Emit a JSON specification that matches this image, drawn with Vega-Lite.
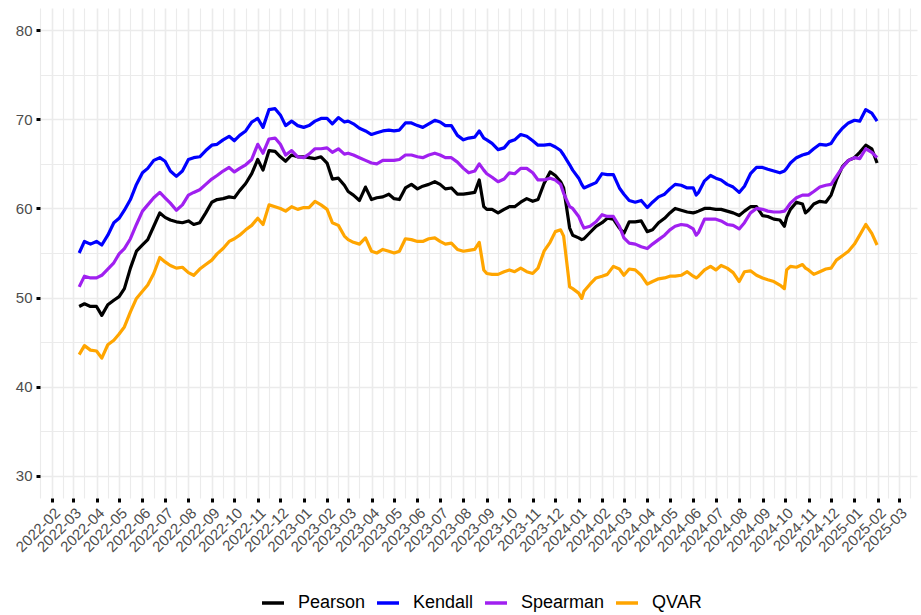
{
  "$schema": "https://vega.github.io/schema/vega-lite/v6.json",
  "width": 877,
  "height": 490,
  "autosize": {"type": "none"},
  "padding": {"left": 40, "top": 8, "right": 4, "bottom": 117},
  "background": "white",
  "config": {"view": {"stroke": null}},
  "data": {"values": [
    {"date":"2022-03-09","Pearson":49.0,"Kendall":55.0,"Spearman":51.2,"QVAR":43.6},
    {"date":"2022-03-16","Pearson":49.3,"Kendall":56.3,"Spearman":52.4,"QVAR":44.6},
    {"date":"2022-03-24","Pearson":49.0,"Kendall":56.0,"Spearman":52.2,"QVAR":44.1},
    {"date":"2022-04-01","Pearson":49.0,"Kendall":56.3,"Spearman":52.2,"QVAR":44.0},
    {"date":"2022-04-08","Pearson":48.0,"Kendall":55.9,"Spearman":52.5,"QVAR":43.2},
    {"date":"2022-04-16","Pearson":49.2,"Kendall":57.0,"Spearman":53.2,"QVAR":44.7},
    {"date":"2022-04-24","Pearson":49.7,"Kendall":58.4,"Spearman":53.9,"QVAR":45.2},
    {"date":"2022-05-01","Pearson":50.1,"Kendall":58.9,"Spearman":54.9,"QVAR":45.9},
    {"date":"2022-05-08","Pearson":51.0,"Kendall":59.8,"Spearman":55.5,"QVAR":46.7},
    {"date":"2022-05-16","Pearson":53.3,"Kendall":61.0,"Spearman":56.6,"QVAR":48.4},
    {"date":"2022-05-24","Pearson":55.2,"Kendall":62.7,"Spearman":58.2,"QVAR":49.9},
    {"date":"2022-06-01","Pearson":55.9,"Kendall":64.0,"Spearman":59.7,"QVAR":50.7},
    {"date":"2022-06-08","Pearson":56.5,"Kendall":64.5,"Spearman":60.4,"QVAR":51.4},
    {"date":"2022-06-16","Pearson":58.0,"Kendall":65.4,"Spearman":61.2,"QVAR":52.7},
    {"date":"2022-06-24","Pearson":59.5,"Kendall":65.7,"Spearman":61.8,"QVAR":54.5},
    {"date":"2022-07-01","Pearson":59.0,"Kendall":65.3,"Spearman":61.2,"QVAR":54.0},
    {"date":"2022-07-08","Pearson":58.7,"Kendall":64.2,"Spearman":60.6,"QVAR":53.6},
    {"date":"2022-07-16","Pearson":58.5,"Kendall":63.6,"Spearman":59.8,"QVAR":53.3},
    {"date":"2022-07-24","Pearson":58.4,"Kendall":64.2,"Spearman":60.4,"QVAR":53.4},
    {"date":"2022-08-01","Pearson":58.6,"Kendall":65.5,"Spearman":61.5,"QVAR":52.8},
    {"date":"2022-08-08","Pearson":58.2,"Kendall":65.7,"Spearman":61.8,"QVAR":52.5},
    {"date":"2022-08-16","Pearson":58.4,"Kendall":65.8,"Spearman":62.1,"QVAR":53.2},
    {"date":"2022-08-24","Pearson":59.5,"Kendall":66.5,"Spearman":62.7,"QVAR":53.7},
    {"date":"2022-09-01","Pearson":60.7,"Kendall":67.1,"Spearman":63.3,"QVAR":54.2},
    {"date":"2022-09-08","Pearson":61.0,"Kendall":67.2,"Spearman":63.7,"QVAR":54.9},
    {"date":"2022-09-16","Pearson":61.1,"Kendall":67.7,"Spearman":64.2,"QVAR":55.5},
    {"date":"2022-09-24","Pearson":61.3,"Kendall":68.1,"Spearman":64.6,"QVAR":56.3},
    {"date":"2022-10-01","Pearson":61.2,"Kendall":67.6,"Spearman":64.1,"QVAR":56.6},
    {"date":"2022-10-08","Pearson":62.0,"Kendall":68.2,"Spearman":64.5,"QVAR":57.0},
    {"date":"2022-10-16","Pearson":62.8,"Kendall":68.7,"Spearman":64.9,"QVAR":57.6},
    {"date":"2022-10-24","Pearson":63.9,"Kendall":69.7,"Spearman":65.5,"QVAR":58.1},
    {"date":"2022-11-01","Pearson":65.5,"Kendall":70.1,"Spearman":67.2,"QVAR":58.9},
    {"date":"2022-11-08","Pearson":64.3,"Kendall":69.1,"Spearman":66.2,"QVAR":58.2},
    {"date":"2022-11-16","Pearson":66.5,"Kendall":71.1,"Spearman":67.8,"QVAR":60.4},
    {"date":"2022-11-24","Pearson":66.4,"Kendall":71.2,"Spearman":67.9,"QVAR":60.2},
    {"date":"2022-12-01","Pearson":65.8,"Kendall":70.5,"Spearman":67.2,"QVAR":60.0},
    {"date":"2022-12-08","Pearson":65.3,"Kendall":69.3,"Spearman":66.0,"QVAR":59.7},
    {"date":"2022-12-16","Pearson":66.0,"Kendall":69.8,"Spearman":66.5,"QVAR":60.2},
    {"date":"2022-12-24","Pearson":65.8,"Kendall":69.3,"Spearman":65.8,"QVAR":59.9},
    {"date":"2023-01-01","Pearson":65.8,"Kendall":69.1,"Spearman":65.7,"QVAR":60.1},
    {"date":"2023-01-08","Pearson":65.7,"Kendall":69.3,"Spearman":66.1,"QVAR":60.1},
    {"date":"2023-01-16","Pearson":65.6,"Kendall":69.8,"Spearman":66.7,"QVAR":60.8},
    {"date":"2023-01-24","Pearson":65.8,"Kendall":70.1,"Spearman":66.7,"QVAR":60.4},
    {"date":"2023-02-01","Pearson":65.1,"Kendall":70.1,"Spearman":66.8,"QVAR":59.9},
    {"date":"2023-02-08","Pearson":63.3,"Kendall":69.5,"Spearman":66.3,"QVAR":58.4},
    {"date":"2023-02-16","Pearson":63.4,"Kendall":70.2,"Spearman":66.7,"QVAR":58.1},
    {"date":"2023-02-24","Pearson":62.6,"Kendall":69.7,"Spearman":66.1,"QVAR":56.9},
    {"date":"2023-03-01","Pearson":61.9,"Kendall":69.8,"Spearman":66.2,"QVAR":56.5},
    {"date":"2023-03-08","Pearson":61.5,"Kendall":69.5,"Spearman":66.0,"QVAR":56.2},
    {"date":"2023-03-16","Pearson":60.9,"Kendall":69.0,"Spearman":65.7,"QVAR":56.0},
    {"date":"2023-03-24","Pearson":62.4,"Kendall":68.7,"Spearman":65.4,"QVAR":56.7},
    {"date":"2023-04-01","Pearson":61.0,"Kendall":68.3,"Spearman":65.1,"QVAR":55.2},
    {"date":"2023-04-08","Pearson":61.2,"Kendall":68.5,"Spearman":65.0,"QVAR":55.0},
    {"date":"2023-04-16","Pearson":61.3,"Kendall":68.7,"Spearman":65.4,"QVAR":55.4},
    {"date":"2023-04-24","Pearson":61.6,"Kendall":68.8,"Spearman":65.4,"QVAR":55.2},
    {"date":"2023-05-01","Pearson":61.1,"Kendall":68.7,"Spearman":65.4,"QVAR":55.0},
    {"date":"2023-05-08","Pearson":61.0,"Kendall":68.8,"Spearman":65.5,"QVAR":55.2},
    {"date":"2023-05-16","Pearson":62.3,"Kendall":69.6,"Spearman":66.0,"QVAR":56.6},
    {"date":"2023-05-24","Pearson":62.7,"Kendall":69.6,"Spearman":66.0,"QVAR":56.5},
    {"date":"2023-06-01","Pearson":62.2,"Kendall":69.3,"Spearman":65.8,"QVAR":56.3},
    {"date":"2023-06-08","Pearson":62.5,"Kendall":69.1,"Spearman":65.7,"QVAR":56.3},
    {"date":"2023-06-16","Pearson":62.7,"Kendall":69.5,"Spearman":66.0,"QVAR":56.6},
    {"date":"2023-06-24","Pearson":63.0,"Kendall":69.9,"Spearman":66.2,"QVAR":56.7},
    {"date":"2023-07-01","Pearson":62.7,"Kendall":69.7,"Spearman":66.0,"QVAR":56.3},
    {"date":"2023-07-08","Pearson":62.2,"Kendall":69.3,"Spearman":65.7,"QVAR":56.0},
    {"date":"2023-07-16","Pearson":62.3,"Kendall":69.3,"Spearman":65.7,"QVAR":56.1},
    {"date":"2023-07-24","Pearson":61.6,"Kendall":68.2,"Spearman":65.2,"QVAR":55.4},
    {"date":"2023-08-01","Pearson":61.6,"Kendall":67.7,"Spearman":64.5,"QVAR":55.2},
    {"date":"2023-08-08","Pearson":61.7,"Kendall":67.9,"Spearman":64.0,"QVAR":55.3},
    {"date":"2023-08-16","Pearson":61.8,"Kendall":68.0,"Spearman":64.2,"QVAR":55.4},
    {"date":"2023-08-22","Pearson":63.2,"Kendall":68.7,"Spearman":65.0,"QVAR":56.2},
    {"date":"2023-08-28","Pearson":60.2,"Kendall":67.9,"Spearman":64.3,"QVAR":53.1},
    {"date":"2023-09-01","Pearson":59.9,"Kendall":67.7,"Spearman":63.9,"QVAR":52.7},
    {"date":"2023-09-08","Pearson":59.9,"Kendall":67.3,"Spearman":63.5,"QVAR":52.6},
    {"date":"2023-09-16","Pearson":59.5,"Kendall":66.6,"Spearman":63.0,"QVAR":52.6},
    {"date":"2023-09-24","Pearson":59.9,"Kendall":66.8,"Spearman":63.3,"QVAR":52.9},
    {"date":"2023-10-01","Pearson":60.2,"Kendall":67.5,"Spearman":64.0,"QVAR":53.1},
    {"date":"2023-10-08","Pearson":60.2,"Kendall":67.7,"Spearman":63.9,"QVAR":52.9},
    {"date":"2023-10-16","Pearson":60.7,"Kendall":68.3,"Spearman":64.5,"QVAR":53.3},
    {"date":"2023-10-24","Pearson":61.1,"Kendall":68.1,"Spearman":64.5,"QVAR":52.9},
    {"date":"2023-11-01","Pearson":60.8,"Kendall":67.6,"Spearman":64.0,"QVAR":52.7},
    {"date":"2023-11-08","Pearson":61.0,"Kendall":67.1,"Spearman":63.2,"QVAR":53.3},
    {"date":"2023-11-16","Pearson":62.8,"Kendall":67.1,"Spearman":63.2,"QVAR":55.2},
    {"date":"2023-11-24","Pearson":64.1,"Kendall":67.2,"Spearman":63.4,"QVAR":56.2},
    {"date":"2023-12-01","Pearson":63.7,"Kendall":66.9,"Spearman":63.2,"QVAR":57.4},
    {"date":"2023-12-08","Pearson":63.0,"Kendall":66.5,"Spearman":62.7,"QVAR":57.6},
    {"date":"2023-12-12","Pearson":62.3,"Kendall":66.0,"Spearman":61.7,"QVAR":56.9},
    {"date":"2023-12-20","Pearson":57.8,"Kendall":64.9,"Spearman":60.2,"QVAR":51.2},
    {"date":"2023-12-24","Pearson":57.0,"Kendall":64.3,"Spearman":60.0,"QVAR":51.0},
    {"date":"2024-01-01","Pearson":56.7,"Kendall":63.4,"Spearman":59.1,"QVAR":50.5},
    {"date":"2024-01-05","Pearson":56.5,"Kendall":62.7,"Spearman":58.3,"QVAR":49.9},
    {"date":"2024-01-08","Pearson":56.6,"Kendall":62.3,"Spearman":57.8,"QVAR":50.7},
    {"date":"2024-01-16","Pearson":57.3,"Kendall":62.6,"Spearman":58.0,"QVAR":51.5},
    {"date":"2024-01-24","Pearson":58.0,"Kendall":62.9,"Spearman":58.5,"QVAR":52.2},
    {"date":"2024-02-01","Pearson":58.4,"Kendall":63.9,"Spearman":59.3,"QVAR":52.4},
    {"date":"2024-02-08","Pearson":58.9,"Kendall":63.8,"Spearman":59.1,"QVAR":52.6},
    {"date":"2024-02-16","Pearson":58.8,"Kendall":63.8,"Spearman":59.1,"QVAR":53.5},
    {"date":"2024-02-24","Pearson":57.8,"Kendall":62.3,"Spearman":58.0,"QVAR":53.2},
    {"date":"2024-03-01","Pearson":57.2,"Kendall":61.6,"Spearman":56.7,"QVAR":52.5},
    {"date":"2024-03-08","Pearson":58.5,"Kendall":60.9,"Spearman":56.1,"QVAR":53.2},
    {"date":"2024-03-16","Pearson":58.5,"Kendall":60.7,"Spearman":56.0,"QVAR":53.1},
    {"date":"2024-03-24","Pearson":58.6,"Kendall":60.9,"Spearman":55.7,"QVAR":52.5},
    {"date":"2024-04-01","Pearson":57.4,"Kendall":60.1,"Spearman":55.5,"QVAR":51.5},
    {"date":"2024-04-08","Pearson":57.6,"Kendall":60.7,"Spearman":56.0,"QVAR":51.8},
    {"date":"2024-04-16","Pearson":58.4,"Kendall":61.3,"Spearman":56.5,"QVAR":52.1},
    {"date":"2024-04-24","Pearson":58.9,"Kendall":61.6,"Spearman":57.0,"QVAR":52.2},
    {"date":"2024-05-01","Pearson":59.5,"Kendall":62.2,"Spearman":57.6,"QVAR":52.4},
    {"date":"2024-05-08","Pearson":60.0,"Kendall":62.7,"Spearman":58.0,"QVAR":52.4},
    {"date":"2024-05-16","Pearson":59.8,"Kendall":62.6,"Spearman":58.2,"QVAR":52.5},
    {"date":"2024-05-24","Pearson":59.6,"Kendall":62.3,"Spearman":58.1,"QVAR":52.9},
    {"date":"2024-06-01","Pearson":59.5,"Kendall":62.3,"Spearman":57.7,"QVAR":52.4},
    {"date":"2024-06-05","Pearson":59.6,"Kendall":61.5,"Spearman":57.0,"QVAR":52.2},
    {"date":"2024-06-08","Pearson":59.7,"Kendall":61.8,"Spearman":57.3,"QVAR":52.4},
    {"date":"2024-06-16","Pearson":60.0,"Kendall":63.1,"Spearman":58.8,"QVAR":53.1},
    {"date":"2024-06-24","Pearson":60.0,"Kendall":63.7,"Spearman":58.8,"QVAR":53.5},
    {"date":"2024-07-01","Pearson":59.9,"Kendall":63.4,"Spearman":58.8,"QVAR":53.1},
    {"date":"2024-07-08","Pearson":59.9,"Kendall":63.2,"Spearman":58.6,"QVAR":53.6},
    {"date":"2024-07-16","Pearson":59.7,"Kendall":62.7,"Spearman":58.2,"QVAR":53.3},
    {"date":"2024-07-24","Pearson":59.5,"Kendall":62.4,"Spearman":58.1,"QVAR":52.8},
    {"date":"2024-08-01","Pearson":59.2,"Kendall":61.8,"Spearman":57.7,"QVAR":51.8},
    {"date":"2024-08-08","Pearson":59.7,"Kendall":62.5,"Spearman":58.4,"QVAR":52.9},
    {"date":"2024-08-16","Pearson":60.2,"Kendall":63.9,"Spearman":59.5,"QVAR":53.0},
    {"date":"2024-08-24","Pearson":60.2,"Kendall":64.6,"Spearman":60.0,"QVAR":52.5},
    {"date":"2024-09-01","Pearson":59.2,"Kendall":64.6,"Spearman":59.9,"QVAR":52.2},
    {"date":"2024-09-08","Pearson":59.1,"Kendall":64.4,"Spearman":59.7,"QVAR":52.0},
    {"date":"2024-09-16","Pearson":58.8,"Kendall":64.2,"Spearman":59.6,"QVAR":51.8},
    {"date":"2024-09-24","Pearson":58.7,"Kendall":64.0,"Spearman":59.6,"QVAR":51.4},
    {"date":"2024-09-30","Pearson":58.0,"Kendall":64.2,"Spearman":59.7,"QVAR":51.0},
    {"date":"2024-10-03","Pearson":59.0,"Kendall":64.5,"Spearman":60.0,"QVAR":53.1},
    {"date":"2024-10-08","Pearson":59.9,"Kendall":65.1,"Spearman":60.6,"QVAR":53.5},
    {"date":"2024-10-16","Pearson":60.7,"Kendall":65.7,"Spearman":61.2,"QVAR":53.4},
    {"date":"2024-10-24","Pearson":60.5,"Kendall":66.0,"Spearman":61.5,"QVAR":53.7},
    {"date":"2024-10-28","Pearson":59.5,"Kendall":66.1,"Spearman":61.5,"QVAR":53.3},
    {"date":"2024-11-01","Pearson":59.8,"Kendall":66.2,"Spearman":61.5,"QVAR":53.1},
    {"date":"2024-11-08","Pearson":60.5,"Kendall":66.7,"Spearman":61.9,"QVAR":52.6},
    {"date":"2024-11-16","Pearson":60.8,"Kendall":67.2,"Spearman":62.4,"QVAR":52.9},
    {"date":"2024-11-24","Pearson":60.7,"Kendall":67.1,"Spearman":62.6,"QVAR":53.2},
    {"date":"2024-12-01","Pearson":61.5,"Kendall":67.3,"Spearman":62.7,"QVAR":53.3},
    {"date":"2024-12-08","Pearson":63.2,"Kendall":68.2,"Spearman":63.6,"QVAR":54.2},
    {"date":"2024-12-16","Pearson":64.7,"Kendall":69.0,"Spearman":64.6,"QVAR":54.7},
    {"date":"2024-12-24","Pearson":65.4,"Kendall":69.6,"Spearman":65.4,"QVAR":55.2},
    {"date":"2025-01-01","Pearson":65.7,"Kendall":69.9,"Spearman":65.7,"QVAR":56.0},
    {"date":"2025-01-08","Pearson":66.3,"Kendall":69.8,"Spearman":65.6,"QVAR":57.0},
    {"date":"2025-01-16","Pearson":67.1,"Kendall":71.1,"Spearman":66.7,"QVAR":58.2},
    {"date":"2025-01-24","Pearson":66.7,"Kendall":70.7,"Spearman":66.3,"QVAR":57.2},
    {"date":"2025-01-31","Pearson":65.1,"Kendall":69.8,"Spearman":65.7,"QVAR":55.9}
  ]},
  "transform": [{"fold": ["Pearson", "Kendall", "Spearman", "QVAR"], "as": ["series", "value"]}],
  "mark": {"type": "line", "strokeWidth": 3.2, "strokeJoin": "round", "strokeCap": "butt"},
  "encoding": {
    "x": {
      "field": "date", "type": "temporal",
      "scale": {"type": "utc", "domain": [{"year": 2022, "month": 1, "date": 16, "utc": true}, {"year": 2025, "month": 3, "date": 25, "utc": true}]},
      "axis": {
        "title": null, "domain": false,
        "values": [
          {"year":2022,"month":1,"date":16,"utc":true},{"year":2022,"month":2,"date":1,"utc":true},{"year":2022,"month":2,"date":15,"utc":true},
          {"year":2022,"month":3,"date":1,"utc":true},{"year":2022,"month":3,"date":16,"utc":true},{"year":2022,"month":4,"date":1,"utc":true},
          {"year":2022,"month":4,"date":16,"utc":true},{"year":2022,"month":5,"date":1,"utc":true},{"year":2022,"month":5,"date":16,"utc":true},
          {"year":2022,"month":6,"date":1,"utc":true},{"year":2022,"month":6,"date":16,"utc":true},{"year":2022,"month":7,"date":1,"utc":true},
          {"year":2022,"month":7,"date":16,"utc":true},{"year":2022,"month":8,"date":1,"utc":true},{"year":2022,"month":8,"date":16,"utc":true},
          {"year":2022,"month":9,"date":1,"utc":true},{"year":2022,"month":9,"date":16,"utc":true},{"year":2022,"month":10,"date":1,"utc":true},
          {"year":2022,"month":10,"date":16,"utc":true},{"year":2022,"month":11,"date":1,"utc":true},{"year":2022,"month":11,"date":16,"utc":true},
          {"year":2022,"month":12,"date":1,"utc":true},{"year":2022,"month":12,"date":16,"utc":true},{"year":2023,"month":1,"date":1,"utc":true},
          {"year":2023,"month":1,"date":16,"utc":true},{"year":2023,"month":2,"date":1,"utc":true},{"year":2023,"month":2,"date":15,"utc":true},
          {"year":2023,"month":3,"date":1,"utc":true},{"year":2023,"month":3,"date":16,"utc":true},{"year":2023,"month":4,"date":1,"utc":true},
          {"year":2023,"month":4,"date":16,"utc":true},{"year":2023,"month":5,"date":1,"utc":true},{"year":2023,"month":5,"date":16,"utc":true},
          {"year":2023,"month":6,"date":1,"utc":true},{"year":2023,"month":6,"date":16,"utc":true},{"year":2023,"month":7,"date":1,"utc":true},
          {"year":2023,"month":7,"date":16,"utc":true},{"year":2023,"month":8,"date":1,"utc":true},{"year":2023,"month":8,"date":16,"utc":true},
          {"year":2023,"month":9,"date":1,"utc":true},{"year":2023,"month":9,"date":16,"utc":true},{"year":2023,"month":10,"date":1,"utc":true},
          {"year":2023,"month":10,"date":16,"utc":true},{"year":2023,"month":11,"date":1,"utc":true},{"year":2023,"month":11,"date":16,"utc":true},
          {"year":2023,"month":12,"date":1,"utc":true},{"year":2023,"month":12,"date":16,"utc":true},{"year":2024,"month":1,"date":1,"utc":true},
          {"year":2024,"month":1,"date":16,"utc":true},{"year":2024,"month":2,"date":1,"utc":true},{"year":2024,"month":2,"date":15,"utc":true},
          {"year":2024,"month":3,"date":1,"utc":true},{"year":2024,"month":3,"date":16,"utc":true},{"year":2024,"month":4,"date":1,"utc":true},
          {"year":2024,"month":4,"date":16,"utc":true},{"year":2024,"month":5,"date":1,"utc":true},{"year":2024,"month":5,"date":16,"utc":true},
          {"year":2024,"month":6,"date":1,"utc":true},{"year":2024,"month":6,"date":16,"utc":true},{"year":2024,"month":7,"date":1,"utc":true},
          {"year":2024,"month":7,"date":16,"utc":true},{"year":2024,"month":8,"date":1,"utc":true},{"year":2024,"month":8,"date":16,"utc":true},
          {"year":2024,"month":9,"date":1,"utc":true},{"year":2024,"month":9,"date":16,"utc":true},{"year":2024,"month":10,"date":1,"utc":true},
          {"year":2024,"month":10,"date":16,"utc":true},{"year":2024,"month":11,"date":1,"utc":true},{"year":2024,"month":11,"date":16,"utc":true},
          {"year":2024,"month":12,"date":1,"utc":true},{"year":2024,"month":12,"date":16,"utc":true},{"year":2025,"month":1,"date":1,"utc":true},
          {"year":2025,"month":1,"date":16,"utc":true},{"year":2025,"month":2,"date":1,"utc":true},{"year":2025,"month":2,"date":15,"utc":true},
          {"year":2025,"month":3,"date":1,"utc":true},{"year":2025,"month":3,"date":16,"utc":true}
        ],
        "labelExpr": "utcdate(datum.value) == 1 ? utcFormat(datum.value, '%Y-%m') : ''",
        "labelAngle": -45, "labelAlign": "right", "labelBaseline": "top",
        "labelFont": "Liberation Sans", "labelFontSize": 15, "labelColor": "#4D4D4D",
        "labelPadding": 3, "labelOverlap": false, "labelBound": false, "labelFlush": false,
        "ticks": true, "tickSize": 4, "tickWidth": 3,
        "tickColor": {"condition": {"test": "utcdate(datum.value) == 1", "value": "black"}, "value": "rgba(0,0,0,0)"},
        "grid": true, "gridColor": "#EBEBEB",
        "gridWidth": {"condition": {"test": "utcdate(datum.value) == 1", "value": 1.6}, "value": 1.1}
      }
    },
    "y": {
      "field": "value", "type": "quantitative",
      "scale": {"domain": [27.5, 82.5], "nice": false, "zero": false},
      "axis": {
        "title": null, "domain": false,
        "values": [30, 35, 40, 45, 50, 55, 60, 65, 70, 75, 80],
        "labelExpr": "datum.value % 10 == 0 ? datum.label : ''",
        "labelFont": "Liberation Sans", "labelFontSize": 15, "labelColor": "#4D4D4D",
        "labelPadding": 4,
        "ticks": true, "tickSize": 4, "tickWidth": 3,
        "tickColor": {"condition": {"test": "datum.value % 10 == 0", "value": "black"}, "value": "rgba(0,0,0,0)"},
        "grid": true, "gridColor": "#EBEBEB",
        "gridWidth": {"condition": {"test": "datum.value % 10 == 0", "value": 1.6}, "value": 1.0}
      }
    },
    "color": {
      "field": "series", "type": "nominal",
      "scale": {"domain": ["Pearson", "Kendall", "Spearman", "QVAR"], "range": ["#000000", "#0000FF", "#A020F0", "#FFA500"]},
      "legend": {
        "title": null, "orient": "none", "direction": "horizontal",
        "legendX": 220, "legendY": 582,
        "symbolType": "stroke", "symbolStrokeWidth": 3.5, "symbolSize": 484,
        "labelFont": "Liberation Sans", "labelFontSize": 18, "labelColor": "#000000",
        "labelOffset": 12, "columnPadding": 4
      }
    }
  }
}
